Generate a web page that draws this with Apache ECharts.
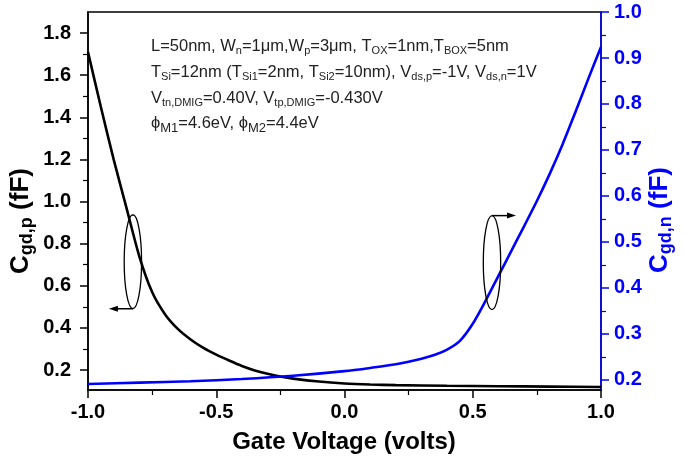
<!DOCTYPE html>
<html><head><meta charset="utf-8">
<script src="https://cdn.jsdelivr.net/npm/echarts@6/dist/echarts.min.js"></script>
<style>html,body{margin:0;padding:0;background:#fff}#c{width:685px;height:460px}</style>
</head><body><div id="c"></div>
<script>
// p-channel gate-drain capacitance (left axis)
const vgP  = [-1.0, -0.95, -0.9, -0.85, -0.8, -0.75, -0.7, -0.65, -0.6, -0.55, -0.5, -0.45, -0.4, -0.35, -0.3, -0.25, -0.2, -0.1, 0.0, 0.1, 0.2, 0.4, 0.6, 0.8, 1.0];
const cgdP = [1.71, 1.45, 1.20, 0.97, 0.74, 0.57, 0.465, 0.395, 0.345, 0.305, 0.273, 0.245, 0.219, 0.198, 0.182, 0.169, 0.159, 0.145, 0.136, 0.131, 0.128, 0.125, 0.123, 0.121, 0.119];
// n-channel gate-drain capacitance (right axis)
const vgN  = [-1.0, -0.8, -0.6, -0.4, -0.2, 0.0, 0.1, 0.2, 0.3, 0.35, 0.4, 0.45, 0.5, 0.55, 0.6, 0.65, 0.7, 0.75, 0.8, 0.85, 0.9, 0.95, 1.0];
const cgdN = [0.191, 0.194, 0.197, 0.202, 0.209, 0.219, 0.226, 0.234, 0.246, 0.254, 0.266, 0.285, 0.322, 0.372, 0.426, 0.480, 0.534, 0.589, 0.648, 0.712, 0.782, 0.854, 0.924];

const xTicks = [-1.0, -0.5, 0.0, 0.5, 1.0];
const leftMajor = [0.2, 0.4, 0.6, 0.8, 1.0, 1.2, 1.4, 1.6, 1.8];
const leftMinor = [0.3, 0.5, 0.7, 0.9, 1.1, 1.3, 1.5, 1.7];
const rightMajor = [0.2, 0.3, 0.4, 0.5, 0.6, 0.7, 0.8, 0.9, 1.0];
const rightMinor = [0.25, 0.35, 0.45, 0.55, 0.65, 0.75, 0.85, 0.95];

const FONT = '"Liberation Sans", Arial, sans-serif';
const BLUE = '#0000ff';
const LBL = 20;
const chart = echarts.init(document.getElementById('c'));

function yAx(opts) {
  return Object.assign({
    type: 'value', splitLine: {show: false},
    axisLine: {show: true, onZero: false, lineStyle: {color: '#000', width: 1.5}},
    axisTick: {show: true, inside: false, length: 8, lineStyle: {color: '#000', width: 1.5}},
    axisLabel: {show: true, color: '#000', fontWeight: 'bold', fontSize: LBL, fontFamily: FONT, margin: 17,
      formatter: v => v.toFixed(1)}
  }, opts);
}

const option = {
  animation: false,
  backgroundColor: '#fff',
  grid: {left: 88, right: 84, top: 12, bottom: 70, show: true, borderColor: '#000', borderWidth: 1.5},
  xAxis: [{
    type: 'value', min: -1, max: 1, interval: 0.5,
    splitLine: {show: false},
    axisLine: {onZero: false, lineStyle: {color: '#000', width: 1.5}},
    axisTick: {length: 8, lineStyle: {color: '#000', width: 1.5}},
    minorTick: {show: true, splitNumber: 2, length: 5, lineStyle: {color: '#000', width: 1.2}},
    minorSplitLine: {show: false},
    axisLabel: {color: '#000', fontWeight: 'bold', fontSize: LBL, fontFamily: FONT, margin: 12,
      customValues: xTicks, formatter: v => v.toFixed(1)}
  }],
  yAxis: [
    yAx({min: 0.105, max: 1.9, position: 'left',
      axisTick: {show: true, length: 8, customValues: leftMajor, lineStyle: {color: '#000', width: 1.5}},
      axisLabel: {color: '#000', fontWeight: 'bold', fontSize: LBL, fontFamily: FONT, margin: 17,
        customValues: leftMajor, formatter: v => v.toFixed(1)}}),
    yAx({min: 0.178, max: 1.0, position: 'right',
      axisLine: {show: true, onZero: false, lineStyle: {color: BLUE, width: 1.5}},
      axisTick: {show: true, length: 8, customValues: rightMajor, lineStyle: {color: BLUE, width: 1.5}},
      axisLabel: {color: BLUE, fontWeight: 'bold', fontSize: LBL, fontFamily: FONT, margin: 13,
        customValues: rightMajor, formatter: v => v.toFixed(1)}}),
    yAx({min: 0.105, max: 1.9, position: 'left', axisLine: {show: false, onZero: false},
      axisTick: {show: true, length: 5, customValues: leftMinor, lineStyle: {color: '#000', width: 1.2}},
      axisLabel: {show: false}}),
    yAx({min: 0.178, max: 1.0, position: 'right', axisLine: {show: false, onZero: false},
      axisTick: {show: true, length: 5, customValues: rightMinor, lineStyle: {color: BLUE, width: 1.2}},
      axisLabel: {show: false}})
  ],
  series: [
    {type: 'line', name: 'Cgd,p', yAxisIndex: 0, data: vgP.map((x, i) => [x, cgdP[i]]),
      showSymbol: false, smooth: 0.25, lineStyle: {color: '#000', width: 2.6}, z: 3},
    {type: 'line', name: 'Cgd,n', yAxisIndex: 1, data: vgN.map((x, i) => [x, cgdN[i]]),
      showSymbol: false, smooth: 0.25, lineStyle: {color: BLUE, width: 2.6}, z: 4}
  ]
};
chart.setOption(option);

// annotations
const subStyle = {fontSize: 11, padding: [9, 0, 0, 0], fontFamily: FONT, fill: '#222'};
const textBase = {fontSize: 16.5, fontFamily: FONT, fill: '#222', verticalAlign: 'middle', align: 'left',
  rich: {s: subStyle, s2: {fontSize: 13, padding: [9, 0, 0, 0], fontFamily: FONT, fill: '#222'}, p: {fontSize: 16.5, fontFamily: FONT, fill: '#222'}}};
const annoLines = [
  'L=50nm, W{s|n}=1\u03bcm,W{s|p}=3\u03bcm, T{s|OX}=1nm,T{s|BOX}=5nm',
  'T{s|Si}=12nm (T{s|Si1}=2nm, T{s|Si2}=10nm), V{s|ds,p}=-1V, V{s|ds,n}=1V',
  'V{s|tn,DMIG}=0.40V, V{s|tp,DMIG}=-0.430V',
  '{p|\u03d5}{s2|M1}=4.6eV, {p|\u03d5}{s2|M2}=4.4eV'
];
const annoY = [46, 72, 98, 123.5];
const graphics = annoLines.map((t, i) => ({
  type: 'text', x: 151, y: annoY[i], z: 10,
  style: Object.assign({}, textBase, {text: t})
}));

// axis titles
graphics.push({type: 'text', x: 344, y: 442, z: 10,
  style: {text: 'Gate Voltage (volts)', fontSize: 24, fontWeight: 'bold', fontFamily: FONT, fill: '#000', align: 'center', verticalAlign: 'middle'}});
graphics.push({type: 'text', x: 21, y: 221, rotation: Math.PI / 2, z: 10,
  style: {text: '{c|C}{s|gd,p}{c| (fF)}', align: 'center', verticalAlign: 'middle', fill: '#000',
    rich: {c: {fontSize: 26, fontWeight: 'bold', fontFamily: FONT, fill: '#000'},
           s: {fontSize: 18, fontWeight: 'bold', fontFamily: FONT, fill: '#000', padding: [12, 0, 0, 0]}}}});
graphics.push({type: 'text', x: 660, y: 220, rotation: Math.PI / 2, z: 10,
  style: {text: '{c|C}{s|gd,n}{c| (fF)}', align: 'center', verticalAlign: 'middle', fill: BLUE,
    rich: {c: {fontSize: 26, fontWeight: 'bold', fontFamily: FONT, fill: BLUE},
           s: {fontSize: 18, fontWeight: 'bold', fontFamily: FONT, fill: BLUE, padding: [12, 0, 0, 0]}}}});

// ellipses and arrows, anchored in data coordinates
const pL = chart.convertToPixel({xAxisIndex: 0, yAxisIndex: 0}, [-0.825, 0.714]);
const pR = chart.convertToPixel({xAxisIndex: 0, yAxisIndex: 1}, [0.575, 0.455]);
const RX = 8.7, RY = 47;
const lineSt = {stroke: '#000', lineWidth: 1.3, fill: null};
graphics.push({type: 'ellipse', shape: {cx: pL[0], cy: pL[1], rx: RX, ry: RY}, style: lineSt, z: 9});
graphics.push({type: 'line', shape: {x1: pL[0], y1: pL[1] + RY, x2: pL[0] - 17, y2: pL[1] + RY}, style: {stroke: '#000', lineWidth: 1.5}, z: 9});
graphics.push({type: 'polygon', shape: {points: [[pL[0] - 24, pL[1] + RY], [pL[0] - 15, pL[1] + RY - 3], [pL[0] - 15, pL[1] + RY + 3]]}, style: {fill: '#000'}, z: 9});
graphics.push({type: 'ellipse', shape: {cx: pR[0], cy: pR[1], rx: RX, ry: RY}, style: lineSt, z: 9});
graphics.push({type: 'line', shape: {x1: pR[0], y1: pR[1] - RY, x2: pR[0] + 17, y2: pR[1] - RY}, style: {stroke: '#000', lineWidth: 1.5}, z: 9});
graphics.push({type: 'polygon', shape: {points: [[pR[0] + 24, pR[1] - RY], [pR[0] + 15, pR[1] - RY - 3], [pR[0] + 15, pR[1] - RY + 3]]}, style: {fill: '#000'}, z: 9});

chart.setOption({graphic: graphics});
</script>
</body></html>
